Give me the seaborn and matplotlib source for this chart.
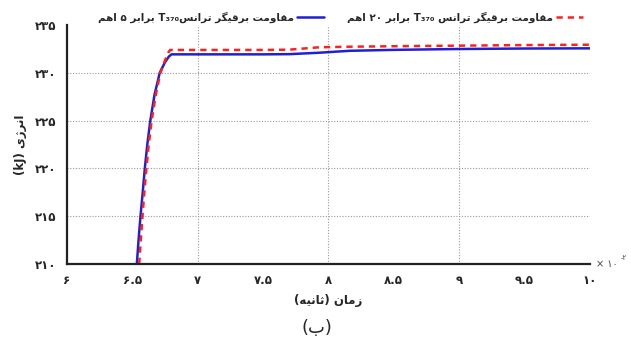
import matplotlib
matplotlib.use("Agg")
import matplotlib.pyplot as plt
from matplotlib.ticker import MultipleLocator
import seaborn as sns
import re

# ---------------- data ----------------
time_blue = [6.535, 6.548, 6.563, 6.58, 6.596, 6.615, 6.638, 6.67, 6.71, 6.75, 6.78, 6.80, 7.0, 7.5, 7.70, 7.93, 8.16, 8.5, 9.0, 9.5, 10.0]
energy_blue = [210.0, 212.5, 215.0, 217.5, 220.0, 222.5, 225.0, 227.7, 230.0, 231.1, 231.7, 231.93, 231.93, 231.93, 231.95, 232.1, 232.3, 232.4, 232.49, 232.54, 232.56]
time_red = [6.553, 6.565, 6.578, 6.592, 6.608, 6.626, 6.648, 6.68, 6.715, 6.75, 6.775, 6.79, 7.0, 7.5, 7.70, 7.93, 8.16, 8.5, 9.0, 9.5, 10.0]
energy_red = [210.0, 212.5, 215.0, 217.5, 220.0, 222.5, 225.0, 227.7, 230.0, 231.3, 232.1, 232.39, 232.39, 232.39, 232.42, 232.67, 232.73, 232.78, 232.84, 232.9, 232.94]

label_blue = "مقاومت برقیگر ترانسT₃₇₀ برابر ۵ اهم"
label_red = "مقاومت برقیگر ترانس T₃₇₀ برابر ۲۰ اهم"
x_label = "زمان (ثانیه)"
y_label = "انرژی (kJ)"
caption = "(ب)"
x_ticks = [6, 6.5, 7, 7.5, 8, 8.5, 9, 9.5, 10]
x_tick_labels = ["۶", "۶.۵", "۷", "۷.۵", "۸", "۸.۵", "۹", "۹.۵", "۱۰"]
x_grid = [7, 8, 9]
y_ticks = [210, 215, 220, 225, 230, 235]
y_tick_labels = ["۲۱۰", "۲۱۵", "۲۲۰", "۲۲۵", "۲۳۰", "۲۳۵"]
x_scale_text = "× ۱۰"
x_scale_exp = "-۲"

# ---------------- minimal Persian shaping + bidi ----------------
FORMS = {
    '\u0627': ('\uFE8D', '\uFE8E', None, None),
    '\u0628': ('\uFE8F', '\uFE90', '\uFE91', '\uFE92'),
    '\u062A': ('\uFE95', '\uFE96', '\uFE97', '\uFE98'),
    '\u062B': ('\uFE99', '\uFE9A', '\uFE9B', '\uFE9C'),
    '\u0631': ('\uFEAD', '\uFEAE', None, None),
    '\u0632': ('\uFEAF', '\uFEB0', None, None),
    '\u0698': ('\uFB8A', '\uFB8B', None, None),
    '\u0633': ('\uFEB1', '\uFEB2', '\uFEB3', '\uFEB4'),
    '\u0642': ('\uFED5', '\uFED6', '\uFED7', '\uFED8'),
    '\u06AF': ('\uFB92', '\uFB93', '\uFB94', '\uFB95'),
    '\u0645': ('\uFEE1', '\uFEE2', '\uFEE3', '\uFEE4'),
    '\u0646': ('\uFEE5', '\uFEE6', '\uFEE7', '\uFEE8'),
    '\u0647': ('\uFEE9', '\uFEEA', '\uFEEB', '\uFEEC'),
    '\u0648': ('\uFEED', '\uFEEE', None, None),
    '\u06CC': ('\uFBFC', '\uFBFD', '\uFBFE', '\uFBFF'),
}
MIRROR = {'(': ')', ')': '('}
LTR = r"A-Za-z0-9\u06F0-\u06F9\u2080-\u2089."


def shape(s):
    out = []
    for i, c in enumerate(s):
        if c not in FORMS:
            out.append(c)
            continue
        prev_j = i > 0 and s[i - 1] in FORMS and FORMS[s[i - 1]][2] is not None
        next_j = FORMS[c][2] is not None and i + 1 < len(s) and s[i + 1] in FORMS
        iso, fin, ini, med = FORMS[c]
        if prev_j and next_j:
            out.append(med)
        elif prev_j:
            out.append(fin)
        elif next_j:
            out.append(ini)
        else:
            out.append(iso)
    return "".join(out)


def fa(s):
    s = shape(s)
    tokens = re.findall(rf"[{LTR}]+|[^{LTR}]+", s)
    res = []
    for t in reversed(tokens):
        if re.match(rf"[{LTR}]", t):
            res.append(t)
        else:
            res.append("".join(MIRROR.get(ch, ch) for ch in reversed(t)))
    return "".join(res)


# ---------------- plot ----------------
sns.set_style("white")
plt.rcParams["font.family"] = ["DejaVu Sans"]

fig = plt.figure(figsize=(6.31, 3.45), dpi=100)
ax = fig.add_axes([0.106, 0.235, 0.829, 0.6925])

for xg in x_grid:
    ax.axvline(xg, linestyle=(0, (1, 1.5)), color="#9a9a9a", lw=0.8, zorder=0)

sns.lineplot(x=time_blue, y=energy_blue, ax=ax, color="#1f1fd6", lw=1.8,
             label=fa(label_blue), sort=False, estimator=None)
sns.lineplot(x=time_red, y=energy_red, ax=ax, color="#ff1f1f", lw=1.8,
             linestyle=(0, (2.5, 2.0)), label=fa(label_red), sort=False, estimator=None)

ax.set_xlim(6, 10)
ax.set_ylim(210, 235)

ax.set_xticks(x_ticks)
ax.set_xticklabels(x_tick_labels, fontsize=8.5, fontweight="bold")
ax.set_yticks(y_ticks)
ax.set_yticklabels(y_tick_labels, fontsize=8.5, fontweight="bold")
ax.yaxis.set_minor_locator(MultipleLocator(2.5))

ax.tick_params(axis="both", which="major", direction="out", length=3.5, width=1.2, color="#222222", pad=4)
ax.tick_params(axis="y", which="minor", direction="out", length=2.5, width=1.0, color="#222222")

ax.grid(False)
ax.grid(axis="y", which="major", linestyle=(0, (1, 1.5)), color="#9a9a9a", lw=0.8)
gl = ax.yaxis.get_gridlines()
gl[0].set_visible(False)
gl[-1].set_visible(False)

for side in ["top", "right"]:
    ax.spines[side].set_visible(False)
for side in ["left", "bottom"]:
    ax.spines[side].set_color("#222222")
    ax.spines[side].set_linewidth(1.6)

ax.set_xlabel(fa(x_label), fontsize=8.5, fontweight="bold", labelpad=5)
ax.set_ylabel(fa(y_label), fontsize=8.5, fontweight="bold", labelpad=6)

ax.text(1.012, 0.0, x_scale_text, transform=ax.transAxes, fontsize=7, color="#444444",
        ha="left", va="center")
ax.text(1.058, 0.025, x_scale_exp, transform=ax.transAxes, fontsize=5, color="#444444",
        ha="left", va="center")

leg = ax.legend(loc="lower center", bbox_to_anchor=(0.523, 0.99), ncol=2, frameon=False,
                markerfirst=False, handlelength=2.6, columnspacing=2.2, handletextpad=0.3,
                prop={"size": 7.5, "weight": "bold"}, borderaxespad=0.0)

fig.text(0.502, 0.05, fa(caption), fontsize=13, ha="center", va="center")

fig.savefig("out.png", dpi=100)
